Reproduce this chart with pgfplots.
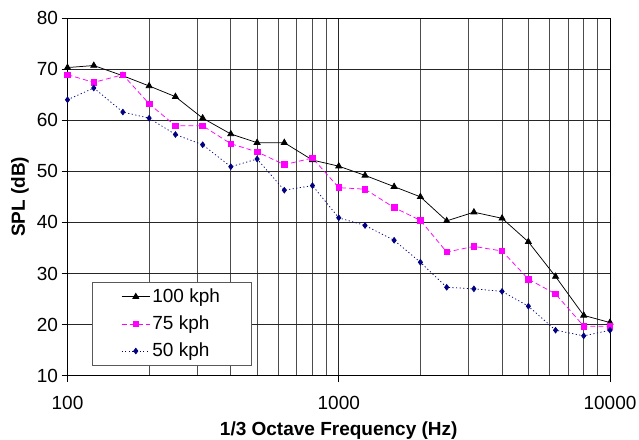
\documentclass[border=0pt]{standalone}
\usepackage{fontspec}
\setmainfont{Liberation Sans}
\usepackage{pgfplots}
\pgfplotsset{compat=1.18}
\definecolor{navyblue}{RGB}{0,0,128}
\definecolor{magentac}{RGB}{255,0,255}
\begin{document}
\fontsize{19bp}{22bp}\selectfont
\begin{tikzpicture}
\path[use as bounding box] (0,0) rectangle (639bp,440bp);
\begin{axis}[
  at={(67.5bp,64.3bp)}, anchor=south west,
  scale only axis, width=542.5bp, height=357.7bp,
  xmode=log, log basis x=10,
  xmin=100, xmax=10000, ymin=10, ymax=80,
  xtick={100,1000,10000}, xticklabels={100,1000,10000},
  minor xtick={200,300,400,500,600,700,800,900,2000,3000,4000,5000,6000,7000,8000,9000},
  ytick={10,20,...,80},
  /pgf/number format/assume math mode=true,
  tick align=outside, major tick length=6bp, minor tick length=0pt,
  xtick pos=bottom, ytick pos=left,
  xmajorgrids, xminorgrids, ymajorgrids,
  grid style={black!85, line width=0.7bp},
  minor grid style={black!70, line width=0.7bp},
  axis line style={black, line width=0.7bp},
  tick style={black, line width=0.7bp},
  tick label style={font=\fontsize{19bp}{22bp}\selectfont},
  xticklabel style={yshift=-8bp},
  yticklabel style={xshift=3bp},
  label style={font=\fontsize{19bp}{22bp}\selectfont\bfseries},
  xlabel={1/3 Octave Frequency (Hz)},
  ylabel={SPL (dB)},
  xlabel style={at={(axis description cs:0.5,0)}, anchor=center, yshift=-55bp},
  ylabel style={at={(axis description cs:0,0.5)}, anchor=center, yshift=47.5bp},
  legend style={at={(axis description cs:0.045,0.028)}, anchor=south west,
    draw=gray!70!black, line width=0.7bp, fill=white,
    font=\fontsize{19bp}{22bp}\selectfont,
    inner xsep=29bp, inner ysep=4bp, row sep=6.5bp},
  legend cell align=left,
  legend image code/.code={\draw[mark repeat=2,mark phase=2] plot coordinates {(0cm,0cm) (0.5cm,0cm) (1.0cm,0cm)};},
]
\addplot[black, line width=0.75bp, mark=triangle*, mark size=3.5bp, mark options={solid}] coordinates {
(100,70.3) (125,70.7) (160,68.7) (200,66.7) (250,64.6) (315,60.4) (400,57.3) (500,55.6) (630,55.6) (800,52.2)
(1000,51.0) (1250,49.2) (1600,47.0) (2000,45.0) (2500,40.3) (3150,42.0) (4000,40.8) (5000,36.2) (6300,29.4) (8000,21.8) (10000,20.4)};
\addlegendentry{100 kph}
\addplot[magentac, line width=0.75bp, dash pattern=on 5bp off 3bp, mark=square*, mark size=2.8bp, mark options={solid}] coordinates {
(100,68.9) (125,67.4) (160,68.9) (200,63.2) (250,58.9) (315,58.9) (400,55.4) (500,53.8) (630,51.3) (800,52.6)
(1000,46.8) (1250,46.5) (1600,42.9) (2000,40.4) (2500,34.2) (3150,35.3) (4000,34.4) (5000,28.9) (6300,26.0) (8000,19.7) (10000,19.7)};
\addlegendentry{75 kph}
\addplot[navyblue, line width=0.75bp, dash pattern=on 1.2bp off 2.4bp, mark=diamond*, mark size=2.8bp, mark options={solid}] coordinates {
(100,64.0) (125,66.3) (160,61.6) (200,60.4) (250,57.2) (315,55.2) (400,50.9) (500,52.4) (630,46.3) (800,47.2)
(1000,40.9) (1250,39.4) (1600,36.5) (2000,32.2) (2500,27.3) (3150,27.0) (4000,26.5) (5000,23.6) (6300,18.9) (8000,17.8) (10000,18.9)};
\addlegendentry{50 kph}
\end{axis}
\end{tikzpicture}
\end{document}
